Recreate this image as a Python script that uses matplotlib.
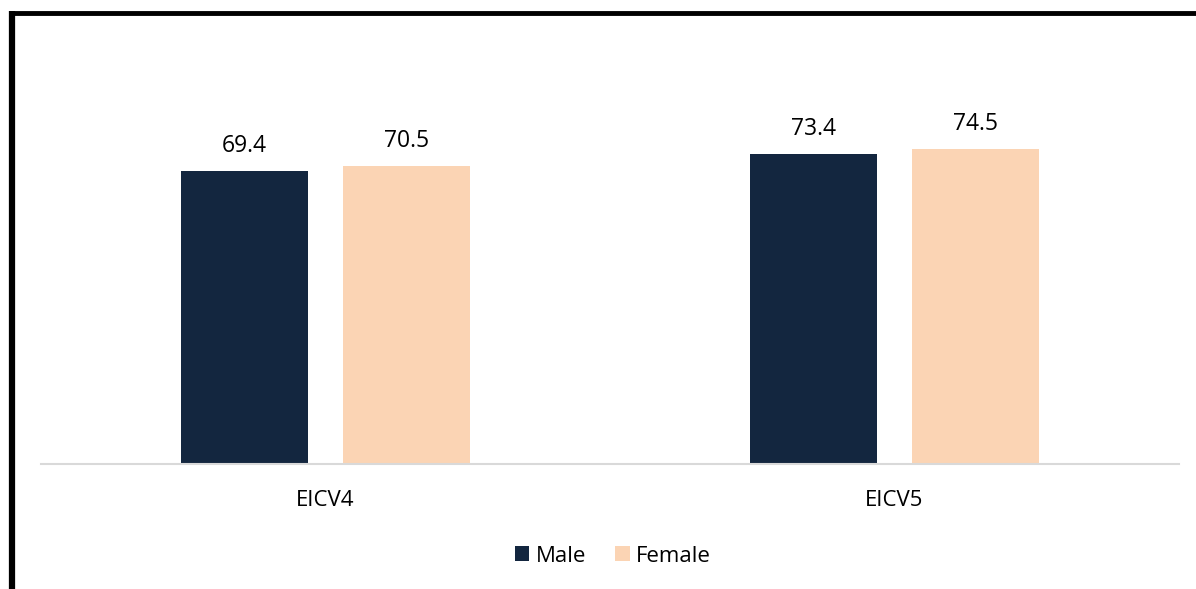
import matplotlib.pyplot as plt
from matplotlib.lines import Line2D
import numpy as np

plt.rcParams['font.family'] = ['Open Sans', 'DejaVu Sans']

surveys = ['EICV4', 'EICV5']
male = [69.4, 73.4]
female = [70.5, 74.5]

fig = plt.figure(figsize=(11.96, 5.89), dpi=100)
W, H = 1196, 589
base_y = 464
ax = fig.add_axes([41 / W, 1 - base_y / H, 1138 / W, (base_y - 20) / H])

x = np.arange(len(surveys))
w = 0.223
off = 0.1424
b1 = ax.bar(x - off, male, w, color='#13263f', label='Male')
b2 = ax.bar(x + off, female, w, color='#fbd4b4', label='Female')
for bars in (b1, b2):
    for r in bars:
        ax.annotate(f'{r.get_height():.1f}', (r.get_x() + r.get_width() / 2, r.get_height()),
                    xytext=(0, 13.5), textcoords='offset points', ha='center', va='baseline',
                    fontsize=16.5, color='#000000')

ax.set_xlim(-0.5, 1.5)
ax.set_ylim(0, (base_y - 20) / 4.225)
ax.set_xticks(x)
ax.set_xticklabels(surveys, fontsize=16)
ax.tick_params(axis='x', length=0, pad=19)
ax.set_yticks([])
for s in ['top', 'right', 'left']:
    ax.spines[s].set_visible(False)
ax.spines['bottom'].set_color('#d9d9d9')
ax.spines['bottom'].set_linewidth(1.5)

fig.legend(handles=[b1, b2], loc='center', bbox_to_anchor=(613 / W, 1 - 556 / H), ncol=2,
           frameon=False, fontsize=16, handlelength=0.65, handleheight=0.65,
           handletextpad=0.3, columnspacing=1.3)

# frame lines on left and top
fig.add_artist(Line2D([12 / W, 12 / W], [0, 1 - 11 / H], color='black', lw=4.5,
                      transform=fig.transFigure, solid_capstyle='butt'))
fig.add_artist(Line2D([10 / W, 1], [1 - 13 / H, 1 - 13 / H], color='black', lw=3.5,
                      transform=fig.transFigure, solid_capstyle='butt'))

fig.savefig('out.png', dpi=100, facecolor='white')
